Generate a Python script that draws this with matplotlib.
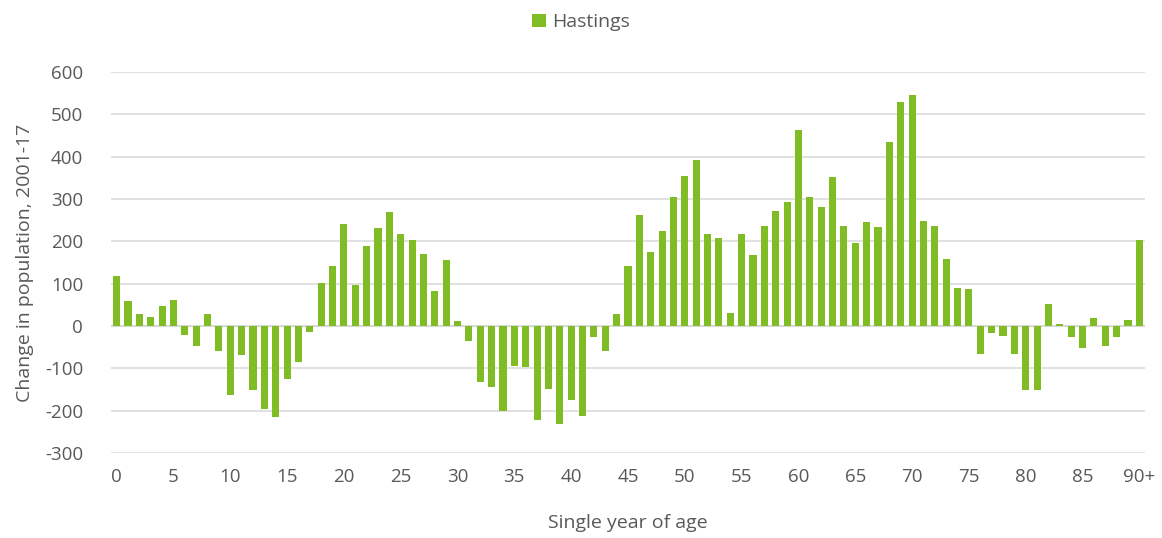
import numpy as np
import matplotlib
matplotlib.use("Agg")
import matplotlib.pyplot as plt

plt.rcParams['font.family'] = ['Open Sans', 'DejaVu Sans']
plt.rcParams['axes.unicode_minus'] = False

# change in population 2001-17 by single year of age (0..90+)
ages = list(range(91))
change = [118, 58, 28, 21, 47, 62, -22, -47, 28, -60,
          -163, -69, -151, -197, -215, -125, -85, -14, 102, 141,
          240, 96, 189, 231, 270, 218, 203, 170, 83, 155,
          11, -35, -132, -145, -200, -95, -97, -223, -148, -231,
          -174, -212, -25, -60, 29, 142, 262, 174, 224, 305,
          354, 392, 217, 208, 31, 217, 168, 236, 271, 293,
          464, 305, 281, 352, 236, 196, 245, 234, 436, 530,
          546, 249, 237, 158, 89, 87, -66, -17, -23, -67,
          -152, -151, 51, 4, -25, -53, 18, -47, -25, 14,
          203]
tick_pos = list(range(0, 91, 5))
tick_labels = [str(t) for t in tick_pos[:-1]] + ['90+']

grey = '#595959'
fig = plt.figure(figsize=(11.62, 5.38), dpi=100)
ax = fig.add_axes([0.0955, 0.158, 0.8899, 0.708])

ax.bar(ages, change, width=0.62, color='#80BC23', label='Hastings', zorder=3)
ax.axhline(0, color='#D9D9D9', lw=1.5, zorder=2)

ax.set_ylim(-300, 600)
ax.set_xlim(-0.5, 90.5)
ax.set_yticks(range(-300, 601, 100))
ax.set_xticks(tick_pos)
ax.set_xticklabels(tick_labels)
ax.grid(axis='y', color='#D9D9D9', lw=1.1, zorder=0)
ax.set_axisbelow(True)
for s in ax.spines.values():
    s.set_visible(False)
ax.tick_params(length=0, labelsize=13.5, colors=grey)
ax.tick_params(axis='y', pad=20)
ax.tick_params(axis='x', pad=11)

ax.set_xlabel('Single year of age', fontsize=14, color=grey, labelpad=20)
ax.set_ylabel('Change in population, 2001-17', fontsize=14, color=grey, labelpad=8)

fig.legend(loc='upper center', bbox_to_anchor=(0.5, 1.008), frameon=False,
           fontsize=14, labelcolor=grey, handlelength=0.7, handleheight=0.7,
           handletextpad=0.3)

fig.savefig('out.png', dpi=100)
